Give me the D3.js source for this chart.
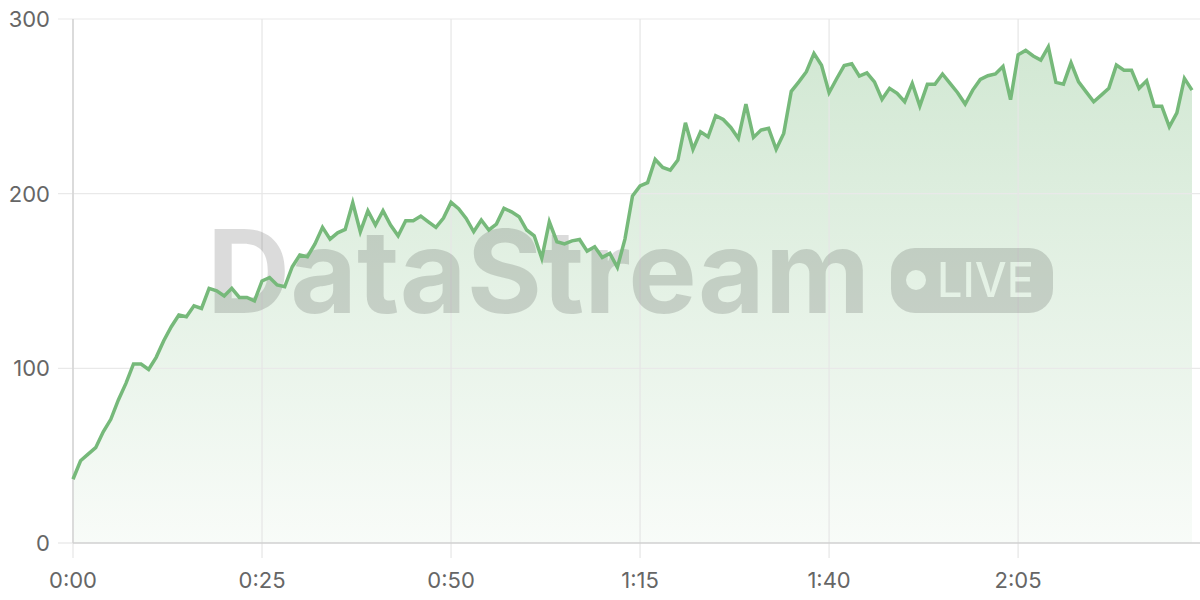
<!DOCTYPE html>
<html>
<head>
<meta charset="utf-8">
<script src="https://cdn.jsdelivr.net/npm/d3@7/dist/d3.min.js"></script>
<style>
  html, body { margin: 0; padding: 0; background: #fff; }
  svg { display: block; }
</style>
</head>
<body>
<svg id="chart" width="1200" height="600"></svg>
<script>
// ---- data ----
const seconds = d3.range(0, 149);
const values = [
  36.5, 47.1, 50.9, 54.6, 63.7, 70.8, 81.9, 91.4, 102.5, 102.5,
  99.4, 106.3, 115.8, 123.8, 130.5, 129.5, 135.8, 134.3, 145.8, 144.4,
  141.4, 145.8, 140.6, 140.6, 138.6, 150.0, 152.0, 147.7, 146.7, 158.2,
  164.9, 163.9, 171.2, 180.7, 174.0, 177.6, 179.5, 194.8, 178.2, 190.2,
  182.0, 190.2, 182.0, 175.9, 184.5, 184.5, 187.2, 183.9, 180.7, 186.0,
  195.0, 191.4, 185.8, 178.2, 184.9, 179.2, 182.6, 191.6, 189.6, 186.8,
  179.2, 175.9, 163.0, 183.9, 172.5, 171.2, 173.0, 173.8, 167.1, 169.6,
  163.5, 165.8, 157.8, 174.0, 198.7, 204.4, 206.3, 219.6, 215.0, 213.5,
  219.2, 240.6, 225.4, 235.4, 232.6, 244.6, 242.5, 237.9, 231.6, 251.3,
  232.2, 236.4, 237.4, 225.4, 234.5, 258.6, 264.0, 269.8, 280.3, 273.5,
  257.8, 265.8, 273.3, 274.4, 267.3, 269.2, 264.0, 254.0, 260.3, 257.4,
  252.6, 263.1, 250.1, 262.6, 262.6, 268.5, 263.1, 257.8, 251.3, 259.3,
  265.4, 267.5, 268.5, 272.8, 253.8, 279.5, 282.0, 278.8, 276.5, 284.1,
  263.7, 262.7, 274.9, 264.0, 258.3, 252.6, 256.4, 260.3, 273.6, 270.7,
  270.7, 260.3, 264.6, 250.1, 250.1, 238.3, 246.3, 266.0, 259.3
];
const xTicks = [0, 25, 50, 75, 100, 125];
const yTicks = [0, 100, 200, 300];
const watermarkText = "DataStream";
const badgeText = "LIVE";

// ---- layout ----
const svg = d3.select("#chart");
const mLeft = 73, mRight = 1192, mTop = 19, mBottom = 543, mEdge = 1200, ext = 15;
const lineColor = "#76b97a";
const labelFont = "Inter, 'Open Sans', sans-serif";

const x = d3.scaleLinear().domain([0, 148]).range([mLeft, mRight]);
const y = d3.scaleLinear().domain([0, 300]).range([mBottom, mTop]);
const fmt = s => Math.floor(s / 60) + ":" + String(s % 60).padStart(2, "0");

const data = seconds.map((s, i) => ({ s, v: values[i] }));

// gradient + mask
const defs = svg.append("defs");
const grad = defs.append("linearGradient").attr("id", "fill")
  .attr("gradientUnits", "userSpaceOnUse")
  .attr("x1", 0).attr("y1", y(d3.max(values))).attr("x2", 0).attr("y2", mBottom);
grad.append("stop").attr("offset", "0%").attr("stop-color", lineColor).attr("stop-opacity", 0.33);
grad.append("stop").attr("offset", "100%").attr("stop-color", lineColor).attr("stop-opacity", 0.05);

// area
svg.append("path").datum(data)
  .attr("fill", "url(#fill)")
  .attr("d", d3.area().x(d => x(d.s)).y0(y(0)).y1(d => y(d.v)));

// grid
const g = svg.append("g");
g.selectAll(".hg").data(yTicks.filter(t => t > 0)).join("line")
  .attr("x1", mLeft - ext).attr("x2", mEdge)
  .attr("y1", d => y(d)).attr("y2", d => y(d))
  .attr("stroke", "#e9e9e9").attr("stroke-width", 1.2);
g.selectAll(".vg").data(xTicks).join("line")
  .attr("x1", d => x(d)).attr("x2", d => x(d))
  .attr("y1", mTop).attr("y2", mBottom + ext)
  .attr("stroke", "#e6e6e6").attr("stroke-width", 1.2);
g.append("line").attr("x1", mLeft - ext).attr("x2", mLeft).attr("y1", y(0)).attr("y2", y(0))
  .attr("stroke", "#e6e6e6").attr("stroke-width", 1.2);
g.append("line").attr("x1", mLeft).attr("x2", mLeft).attr("y1", mTop).attr("y2", mBottom)
  .attr("stroke", "#d4d4d4").attr("stroke-width", 1.5);
g.append("line").attr("x1", mLeft).attr("x2", mEdge).attr("y1", mBottom).attr("y2", mBottom)
  .attr("stroke", "#d0d0d0").attr("stroke-width", 1.5);

// watermark
const wm = svg.append("g");
wm.append("text").text(watermarkText)
  .attr("x", 207).attr("y", 313)
  .attr("font-family", labelFont)
  .attr("font-weight", 700).attr("font-size", 115)
  .attr("fill", "rgba(0,0,0,0.14)")
  .attr("textLength", 663).attr("lengthAdjust", "spacingAndGlyphs");

const mask = defs.append("mask").attr("id", "badgeMask")
  .attr("maskUnits", "userSpaceOnUse").attr("x", 0).attr("y", 0).attr("width", 1200).attr("height", 600);
mask.append("rect").attr("x", 0).attr("y", 0).attr("width", 1200).attr("height", 600).attr("fill", "#fff");
mask.append("circle").attr("cx", 916).attr("cy", 280).attr("r", 10).attr("fill", "#000");
mask.append("text").text(badgeText)
  .attr("x", 937).attr("y", 297)
  .attr("font-family", labelFont)
  .attr("font-weight", 500).attr("font-size", 48)
  .attr("textLength", 97).attr("lengthAdjust", "spacingAndGlyphs")
  .attr("fill", "#000");
wm.append("rect")
  .attr("x", 891).attr("y", 248).attr("width", 162).attr("height", 65).attr("rx", 24)
  .attr("fill", "rgba(0,0,0,0.14)")
  .attr("mask", "url(#badgeMask)");

// line
svg.append("path").datum(data)
  .attr("fill", "none").attr("stroke", lineColor).attr("stroke-width", 3.5)
  .attr("stroke-linejoin", "miter")
  .attr("d", d3.line().x(d => x(d.s)).y(d => y(d.v)));

// labels
svg.selectAll(".yl").data(yTicks).join("text")
  .attr("x", 50).attr("y", d => y(d)).attr("dy", "0.36em")
  .attr("text-anchor", "end")
  .attr("font-family", labelFont).attr("font-size", 22)
  .attr("fill", "#666").text(d => d);
svg.selectAll(".xl").data(xTicks).join("text")
  .attr("x", d => x(d)).attr("y", 580).attr("dy", "0.36em")
  .attr("text-anchor", "middle")
  .attr("font-family", labelFont).attr("font-size", 22)
  .attr("fill", "#666").text(d => fmt(d));
</script>
</body>
</html>
